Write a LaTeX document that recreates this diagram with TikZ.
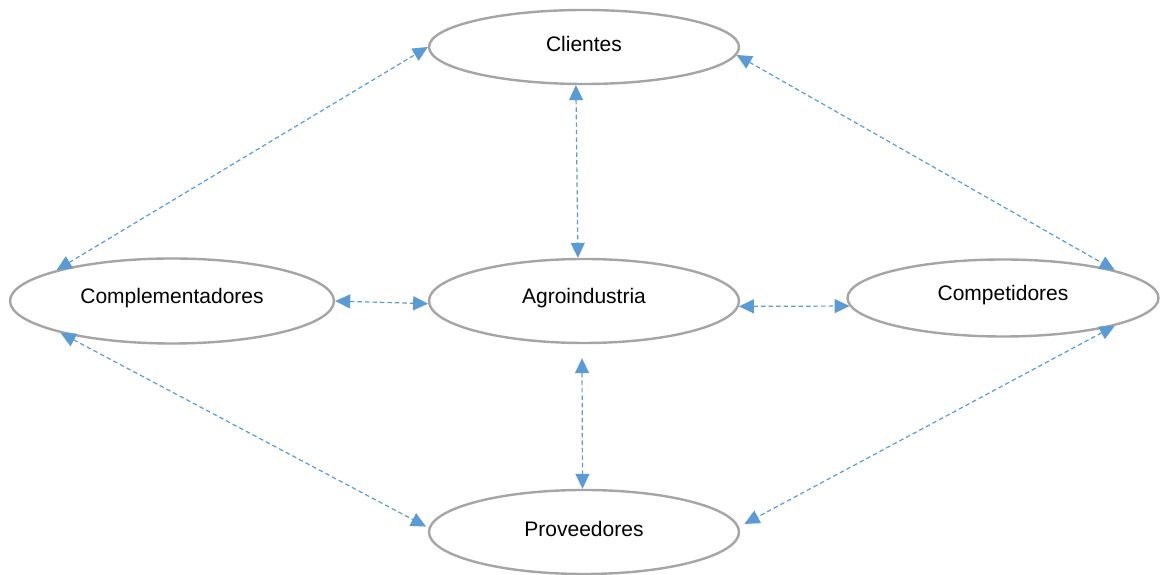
\documentclass[tikz,border=0pt]{standalone}
\usepackage{fontspec}
\setmainfont{Liberation Sans}
\usetikzlibrary{shapes.geometric,arrows.meta}
\definecolor{linkblue}{HTML}{5B9BD5}
\definecolor{rimgray}{HTML}{A5A5A5}
\newcommand{\actorlabel}[1]{\raisebox{3pt}[\height][\depth]{#1}}
\begin{document}
\begin{tikzpicture}[x=1pt,y=1pt,
  actor/.style={ellipse, draw=rimgray, line width=2.4pt, fill=white, inner sep=0pt,
    font=\fontsize{21}{25}\selectfont},
  link/.style={draw=linkblue, line width=1.2pt, dash pattern=on 4.5pt off 3pt,
    {Triangle[length=15pt,width=14pt]}-{Triangle[length=15pt,width=14pt]}}]
\useasboundingbox (0,0) rectangle (1160,575);
% actors (y measured upward)
\node[actor, minimum width=310, minimum height=74] (cli) at (584,528) {\actorlabel{Clientes}};
\node[actor, minimum width=310, minimum height=84] (agro) at (584,274) {\actorlabel{Agroindustria}};
\node[actor, minimum width=324, minimum height=85] (comp) at (172,274) {\actorlabel{Complementadores}};
\node[actor, minimum width=311, minimum height=77] (compet) at (1003,277) {\actorlabel{Competidores}};
\node[actor, minimum width=310, minimum height=84] (prov) at (584,43) {\actorlabel{Proveedores}};
% relations
\draw[link] (comp.165) -- (cli.180);
\draw[link] (cli.357) -- (compet.14.4);
\draw[link] (cli.258) -- (agro.98);
\draw[link] (comp.0) -- (agro.181);
\draw[link] (agro.358.5) -- (compet.183.5);
\draw[link] ([shift={(-2,-14)}]agro.south) -- (prov.92.6);
\draw[link] (comp.196) -- ([xshift=-3]prov.178);
\draw[link] (compet.346.6) -- ([xshift=7]prov.3.9);
\end{tikzpicture}
\end{document}
